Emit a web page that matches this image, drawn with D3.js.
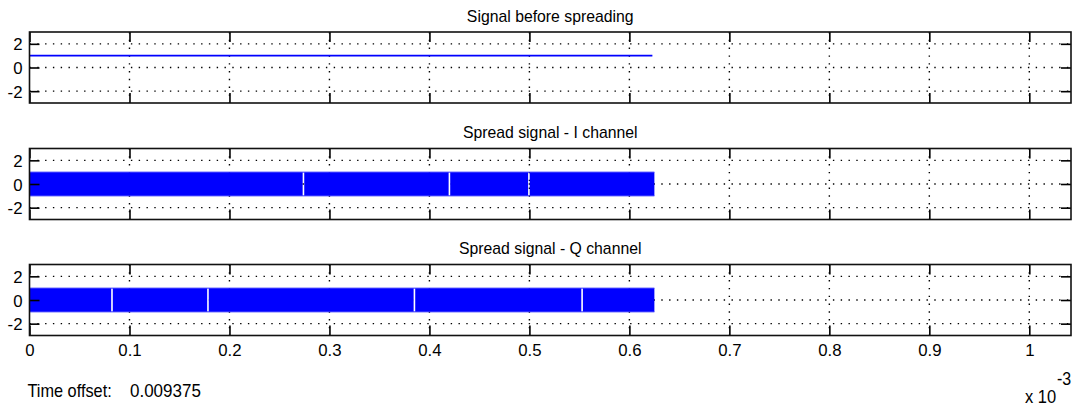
<!DOCTYPE html>
<html>
<head>
<meta charset="utf-8">
<script src="https://cdn.jsdelivr.net/npm/d3@7"></script>
<style>
  html, body { margin: 0; padding: 0; background: #ffffff; }
  svg { display: block; }
  text { font-family: "Liberation Sans", Arial, sans-serif; fill: #000; }
</style>
</head>
<body>
<svg id="chart" width="1076" height="409"></svg>
<script>
// Time axis is in milliseconds (labels carry the x 10^-3 multiplier)
const xDomain = [0, 1.0417];
const xTicks = [0, 0.1, 0.2, 0.3, 0.4, 0.5, 0.6, 0.7, 0.8, 0.9, 1.0];
const xTickLabels = ["0", "0.1", "0.2", "0.3", "0.4", "0.5", "0.6", "0.7", "0.8", "0.9", "1"];
const yDomain = [-3, 3];
const yTicks = [-2, 0, 2];
const yTickLabels = ["-2", "0", "2"];

const panelTitles = ["Signal before spreading", "Spread signal - I channel", "Spread signal - Q channel"];

// Data signal (before spreading): constant level of 1
const signalTimes = [0, 0.623];
const signalValues = [1, 1];

// Spread chips swing between +1 and -1 until the end of the burst
const chipLevels = [1, -1];
const burstEnd = 0.625;
// Instants where the chip stream holds its level long enough to leave a visible gap
const iGapTimes = [0.274, 0.420, 0.4995];
const qGapTimes = [0.0825, 0.1785, 0.385, 0.5527];

const timeOffsetLabel = "Time offset:";
const timeOffsetValue = "0.009375";

const svg = d3.select("#chart");
const left = 29.5, right = 1071;
const panelTops = [32, 148.5, 264.5];
const panelH = 71;

const x = d3.scaleLinear().domain(xDomain).range([left, right]);

// slightly tall glyphs, like the bitmap UI font
const stretch = sel => sel.attr("transform", function () {
  const yy = +d3.select(this).attr("y") || 0;
  return `translate(0,${yy}) scale(1,1.1) translate(0,${-yy})`;
});

panelTops.forEach((top, p) => {
  const y = d3.scaleLinear().domain(yDomain).range([top + panelH, top]);
  const g = svg.append("g");

  // title
  g.append("text")
    .attr("x", (left + right) / 2)
    .attr("y", top - 10)
    .attr("text-anchor", "middle")
    .attr("font-size", "15.8px")
    .text(panelTitles[p])
    .call(stretch);

  // dotted grid
  const grid = g.append("g")
    .attr("stroke", "#000")
    .attr("stroke-width", 1.4)
    .attr("stroke-dasharray", "1.4 6.4")
    .attr("fill", "none");
  grid.selectAll("line.v").data(xTicks.filter(t => t > 0)).join("line")
    .attr("x1", d => x(d)).attr("x2", d => x(d))
    .attr("y1", top).attr("y2", top + panelH);
  grid.selectAll("line.h").data(yTicks).join("line")
    .attr("x1", left).attr("x2", right)
    .attr("y1", d => y(d)).attr("y2", d => y(d));

  // data
  if (p === 0) {
    const pts = signalTimes.map((t, i) => [t, signalValues[i]]);
    g.append("path")
      .attr("d", d3.line().x(d => x(d[0])).y(d => y(d[1]))(pts))
      .attr("stroke", "#0000ff")
      .attr("stroke-width", 1.8)
      .attr("fill", "none");
  } else {
    const gaps = p === 1 ? iGapTimes : qGapTimes;
    const edges = [0, ...gaps, burstEnd];
    const segs = d3.pairs(edges);
    const half = 0.8;
    const band = g.append("g");
    band.selectAll("rect").data(segs).join("rect")
      .attr("x", (d, i) => x(d[0]) + (i > 0 ? half : 0))
      .attr("width", (d, i) => (x(d[1]) - (i < segs.length - 1 ? half : 0)) - (x(d[0]) + (i > 0 ? half : 0)))
      .attr("y", y(d3.max(chipLevels)))
      .attr("height", y(d3.min(chipLevels)) - y(d3.max(chipLevels)))
      .attr("fill", "#0000ff");
    band.selectAll("line").data(chipLevels).join("line")
      .attr("x1", x(0)).attr("x2", x(burstEnd))
      .attr("y1", d => y(d)).attr("y2", d => y(d))
      .attr("stroke", "#3030ff")
      .attr("stroke-width", 1);
  }

  // axes with inward ticks on all four sides
  const axL = d3.axisLeft(y).tickValues(yTicks).tickSize(-10).tickPadding(7)
    .tickFormat((d, i) => yTickLabels[i]);
  const axR = d3.axisRight(y).tickValues(yTicks).tickSize(-10).tickFormat("");
  const axT = d3.axisTop(x).tickValues(xTicks).tickSize(-10).tickFormat("");
  const axB = d3.axisBottom(x).tickValues(xTicks).tickSize(-10).tickPadding(9)
    .tickFormat(p === 2 ? (d, i) => xTickLabels[i] : "");

  const styleAxis = sel => {
    sel.select(".domain").remove();
    sel.selectAll(".tick line").attr("stroke", "#000").attr("stroke-width", 1.6);
    sel.selectAll(".tick text").attr("font-size", "16.8px").attr("font-family", "Liberation Sans, Arial, sans-serif").attr("fill", "#000");
  };
  g.append("g").attr("transform", `translate(${left},0)`).call(axL).call(styleAxis)
    .selectAll(".tick text").attr("dy", "0.36em");
  g.append("g").attr("transform", `translate(${right},0)`).call(axR).call(styleAxis);
  g.append("g").attr("transform", `translate(0,${top})`).call(axT).call(styleAxis);
  g.append("g").attr("transform", `translate(0,${top + panelH})`).call(axB).call(styleAxis);

  // box
  g.append("rect")
    .attr("x", left).attr("y", top)
    .attr("width", right - left).attr("height", panelH)
    .attr("fill", "none")
    .attr("stroke", "#111")
    .attr("stroke-width", 1.6);
});

// exponent marker for the time axis
svg.append("text").attr("x", 1025).attr("y", 403).attr("font-size", "16.5px").text("x 10").call(stretch);
svg.append("text").attr("x", 1057).attr("y", 385).attr("font-size", "16px").text("-3").call(stretch);

// time offset readout
svg.append("text").attr("x", 27.5).attr("y", 397).attr("font-size", "16.3px").text(timeOffsetLabel).call(stretch);
svg.append("text").attr("x", 130).attr("y", 397).attr("font-size", "17px").text(timeOffsetValue).call(stretch);
</script>
</body>
</html>
